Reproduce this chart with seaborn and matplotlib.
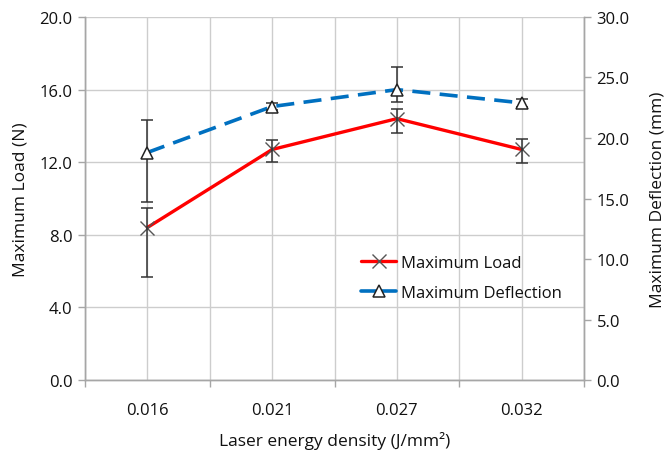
import matplotlib
matplotlib.use("Agg")
import matplotlib.pyplot as plt
import seaborn as sns
from matplotlib.ticker import FixedLocator, FormatStrFormatter, MultipleLocator
from matplotlib.lines import Line2D

# Data
energy_density = ["0.016", "0.021", "0.027", "0.032"]
max_load = [8.4, 12.7, 14.4, 12.7]              # N
load_err_low = [2.7, 0.7, 0.8, 0.75]
load_err_high = [1.1, 0.55, 0.55, 0.6]
max_deflection = [18.8, 22.6, 24.0, 22.9]       # mm
defl_err_low = [4.1, 0.3, 1.0, 0.3]
defl_err_high = [2.7, 0.3, 1.85, 0.3]

sns.set_theme(style="white")
plt.rcParams["font.family"] = ["Open Sans", "DejaVu Sans"]

fig = plt.figure(figsize=(6.67, 4.6), dpi=100)
ax = fig.add_axes([0.1274, 0.1717, 0.7482, 0.7892])
ax2 = ax.twinx()

pos = list(range(len(energy_density)))
grid_c = "#CDCDCD"
spine_c = "#A6A6A6"
err_c = "#333333"
text_c = "#111111"

# Load series (left axis)
sns.lineplot(x=pos, y=max_load, ax=ax, color="#FF0000", linewidth=2.4,
             marker="x", markersize=10, markeredgecolor="#555555",
             markeredgewidth=1.0, legend=False, zorder=3)
ax.errorbar(pos, max_load, yerr=[load_err_low, load_err_high], fmt="none",
            ecolor=err_c, elinewidth=1.1, capsize=4, capthick=1.1, zorder=4)

# Deflection series (right axis)
sns.lineplot(x=pos, y=max_deflection, ax=ax2, color="#0070C0", linewidth=2.6,
             legend=False, zorder=3)
ax2.lines[-1].set_linestyle((0, (5, 2.6)))
ax2.plot(pos, max_deflection, linestyle="none", marker="^", markersize=8,
         markerfacecolor="white", markeredgecolor="#222222",
         markeredgewidth=1.1, zorder=5)
ax2.errorbar(pos, max_deflection, yerr=[defl_err_low, defl_err_high],
             fmt="none", ecolor=err_c, elinewidth=1.1, capsize=4,
             capthick=1.1, zorder=4)

# Axes limits and ticks
ax.set_xlim(-0.5, len(pos) - 0.5)
ax.set_ylim(0, 20)
ax2.set_ylim(0, 30)
ax.yaxis.set_major_locator(MultipleLocator(4))
ax.yaxis.set_major_formatter(FormatStrFormatter("%.1f"))
ax2.yaxis.set_major_locator(MultipleLocator(5))
ax2.yaxis.set_major_formatter(FormatStrFormatter("%.1f"))

ax.set_xticks(pos)
ax.set_xticklabels(energy_density)
ax.xaxis.set_minor_locator(FixedLocator([p - 0.5 for p in pos] + [pos[-1] + 0.5]))

ax.grid(True, which="major", axis="both", color=grid_c, linewidth=1.0, zorder=0)
ax.grid(True, which="minor", axis="x", color=grid_c, linewidth=1.0, zorder=0)
ax.set_axisbelow(True)

ax.tick_params(axis="x", which="major", length=0, pad=16, labelsize=12,
               labelcolor=text_c)
ax.tick_params(axis="x", which="minor", length=5, width=1, color=spine_c,
               direction="out", bottom=True)
ax.tick_params(axis="y", which="major", length=5, width=1, color=spine_c,
               direction="out", pad=4, labelsize=12, labelcolor=text_c)
ax2.tick_params(axis="y", which="major", length=5, width=1, color=spine_c,
                direction="out", pad=4, labelsize=12, labelcolor=text_c)

for a in (ax, ax2):
    for side, sp in a.spines.items():
        if side == "top":
            sp.set_visible(False)
        else:
            sp.set_color(spine_c)
            sp.set_linewidth(1.0)

ax.set_ylabel("Maximum Load (N)", fontsize=12.5, color=text_c, labelpad=8)
ax2.set_ylabel("Maximum Deflection (mm)", fontsize=12.5, color=text_c,
               labelpad=14)
ax.set_xlabel("Laser energy density (J/mm²)", fontsize=12.5, color=text_c,
              labelpad=9)

handles = [
    Line2D([], [], color="#FF0000", linewidth=2.4, marker="x", markersize=10,
           markeredgecolor="#555555", markeredgewidth=1.0),
    Line2D([], [], color="#0070C0", linewidth=2.6, marker="^", markersize=8,
           markerfacecolor="white", markeredgecolor="#222222",
           markeredgewidth=1.1),
]
leg = ax2.legend(handles, ["Maximum Load", "Maximum Deflection"],
                 loc="upper left", bbox_to_anchor=(0.524, 0.387), frameon=False,
                 fontsize=12, handlelength=2.1, handletextpad=0.25,
                 labelspacing=0.85)
for t in leg.get_texts():
    t.set_color(text_c)

fig.savefig("out.png", dpi=100)
